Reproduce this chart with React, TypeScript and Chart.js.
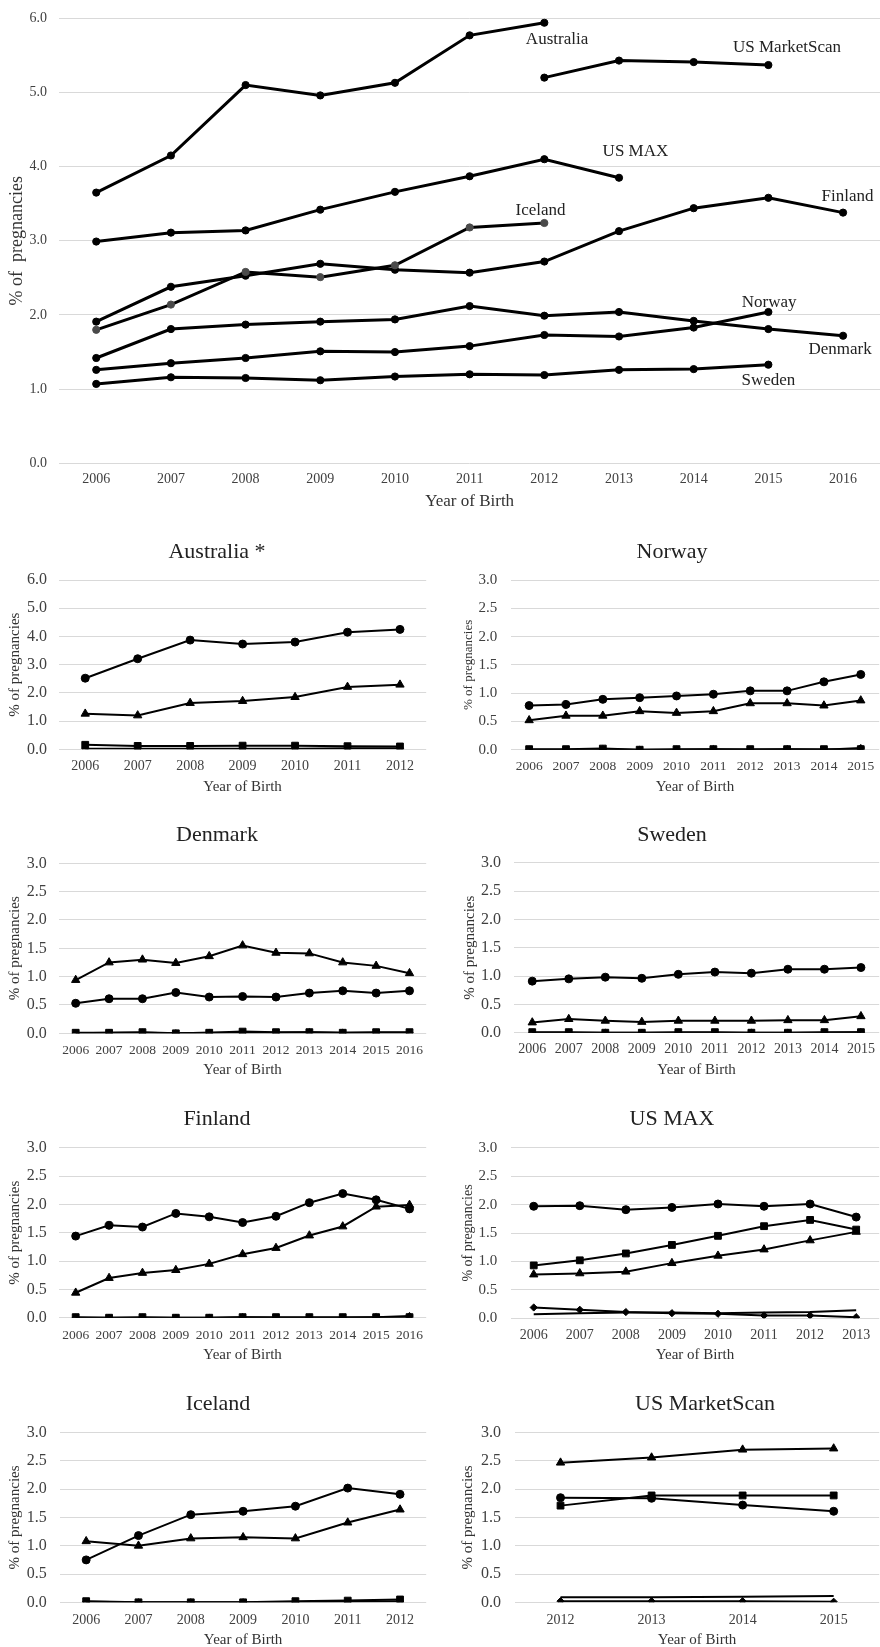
import React, { useEffect, useRef } from "react";
import { Chart, registerables } from "chart.js";

Chart.register(...registerables);

const FONT = "'Liberation Serif', 'Times New Roman', Times, serif";
const TICK_COLOR = "#404040";
const AXIS_TITLE_COLOR = "#333333";
const TITLE_COLOR = "#222222";
const GRID_COLOR = "#d9d9d9";

// ---------------- Overview chart data ----------------
const overviewYears = ["2006", "2007", "2008", "2009", "2010", "2011", "2012", "2013", "2014", "2015", "2016"];
const ovAustralia = [3.65, 4.15, 5.1, 4.96, 5.13, 5.77, 5.94, null, null, null, null];
const ovMarketScan = [null, null, null, null, null, null, 5.2, 5.43, 5.41, 5.37, null];
const ovUSMAX = [2.99, 3.11, 3.14, 3.42, 3.66, 3.87, 4.1, 3.85, null, null, null];
const ovIceland = [1.8, 2.14, 2.58, 2.51, 2.67, 3.18, 3.24, null, null, null, null];
const ovFinland = [1.91, 2.38, 2.53, 2.69, 2.61, 2.57, 2.72, 3.13, 3.44, 3.58, 3.38];
const ovDenmark = [1.42, 1.81, 1.87, 1.91, 1.94, 2.12, 1.99, 2.04, 1.92, 1.81, 1.72];
const ovNorway = [1.26, 1.35, 1.42, 1.51, 1.5, 1.58, 1.73, 1.71, 1.83, 2.04, null];
const ovSweden = [1.07, 1.16, 1.15, 1.12, 1.17, 1.2, 1.19, 1.26, 1.27, 1.33, null];

// label texts and anchor (category index, value) for the overview annotations
const ovLabelTexts = ["Australia", "US MarketScan", "US MAX", "Iceland", "Finland", "Norway", "Denmark", "Sweden"];
const ovLabelAnchors = [
  [6.17, 5.72],
  [9.25, 5.6],
  [7.22, 4.2],
  [5.95, 3.41],
  [10.06, 3.6],
  [9.01, 2.165],
  [9.96, 1.53],
  [9.0, 1.11],
];

// ---------------- Panel data ----------------
const yearsAU = ["2006", "2007", "2008", "2009", "2010", "2011", "2012"];
const auCircle = [2.52, 3.21, 3.87, 3.73, 3.8, 4.15, 4.25];
const auTriangle = [1.26, 1.2, 1.64, 1.71, 1.85, 2.21, 2.29];
const auSquare = [0.16, 0.12, 0.12, 0.13, 0.13, 0.11, 0.1];
const auDiamond = [0.02, 0.02, 0.02, 0.02, 0.02, 0.04, 0.04];

const yearsNO = ["2006", "2007", "2008", "2009", "2010", "2011", "2012", "2013", "2014", "2015"];
const noCircle = [0.78, 0.8, 0.89, 0.92, 0.95, 0.98, 1.04, 1.04, 1.2, 1.33];
const noTriangle = [0.52, 0.6, 0.6, 0.68, 0.65, 0.68, 0.82, 0.82, 0.78, 0.87];
const noSquare = [0.01, 0.01, 0.02, 0.0, 0.01, 0.01, 0.01, 0.01, 0.01, 0.01];
const noDiamond = [0.0, 0.0, 0.01, 0.0, 0.0, 0.01, 0.0, 0.01, 0.0, 0.03];

const yearsDK = ["2006", "2007", "2008", "2009", "2010", "2011", "2012", "2013", "2014", "2015", "2016"];
const dkTriangle = [0.94, 1.25, 1.3, 1.24, 1.36, 1.55, 1.42, 1.41, 1.25, 1.19, 1.06];
const dkCircle = [0.53, 0.61, 0.61, 0.72, 0.64, 0.65, 0.64, 0.71, 0.75, 0.71, 0.75];
const dkSquare = [0.01, 0.01, 0.02, 0.0, 0.01, 0.03, 0.02, 0.02, 0.01, 0.02, 0.02];
const dkDiamond = [0.0, 0.01, 0.01, 0.0, 0.01, 0.01, 0.01, 0.02, 0.01, 0.01, 0.01];

const yearsSE = ["2006", "2007", "2008", "2009", "2010", "2011", "2012", "2013", "2014", "2015"];
const seCircle = [0.91, 0.95, 0.98, 0.96, 1.03, 1.07, 1.05, 1.12, 1.12, 1.15];
const seTriangle = [0.18, 0.24, 0.21, 0.19, 0.21, 0.21, 0.21, 0.22, 0.22, 0.29];
const seSquare = [0.01, 0.01, 0.0, 0.0, 0.01, 0.01, 0.0, 0.0, 0.01, 0.01];
const seDiamond = [0.0, 0.0, 0.0, 0.0, 0.0, 0.0, 0.0, 0.0, 0.0, 0.01];

const yearsFI = ["2006", "2007", "2008", "2009", "2010", "2011", "2012", "2013", "2014", "2015", "2016"];
const fiCircle = [1.44, 1.63, 1.6, 1.84, 1.78, 1.68, 1.79, 2.03, 2.19, 2.08, 1.92];
const fiTriangle = [0.44, 0.7, 0.79, 0.84, 0.95, 1.12, 1.23, 1.45, 1.61, 1.96, 1.99];
const fiSquare = [0.01, 0.0, 0.01, 0.0, 0.0, 0.01, 0.01, 0.01, 0.01, 0.01, 0.01];
const fiDiamond = [0.0, 0.0, 0.0, 0.0, 0.0, 0.01, 0.0, 0.0, 0.0, 0.01, 0.03];

const yearsMAX = ["2006", "2007", "2008", "2009", "2010", "2011", "2012", "2013"];
const maxCircle = [1.97, 1.98, 1.91, 1.95, 2.01, 1.97, 2.01, 1.78];
const maxSquare = [0.93, 1.02, 1.14, 1.29, 1.45, 1.62, 1.73, 1.56];
const maxTriangle = [0.77, 0.79, 0.82, 0.97, 1.1, 1.21, 1.37, 1.52];
const maxDiamond = [0.19, 0.15, 0.11, 0.09, 0.08, 0.05, 0.05, 0.02];
const maxPlain = [0.07, 0.09, 0.1, 0.1, 0.09, 0.1, 0.11, 0.14];

const yearsIS = ["2006", "2007", "2008", "2009", "2010", "2011", "2012"];
const isCircle = [0.75, 1.18, 1.55, 1.61, 1.7, 2.02, 1.91];
const isTriangle = [1.08, 1.0, 1.13, 1.15, 1.13, 1.41, 1.64];
const isSquare = [0.02, 0.0, 0.0, 0.0, 0.02, 0.03, 0.05];
const isDiamond = [0.01, 0.0, 0.0, 0.0, 0.0, 0.01, 0.02];

const yearsMS = ["2012", "2013", "2014", "2015"];
const msTriangle = [2.47, 2.56, 2.7, 2.72];
const msSquare = [1.71, 1.89, 1.89, 1.89];
const msCircle = [1.85, 1.84, 1.72, 1.61];
const msPlain = [0.09, 0.09, 0.1, 0.11];
const msDiamond = [0.02, 0.02, 0.02, 0.01];

// ---------------- helpers ----------------
type Marker = "circle" | "triangle" | "square" | "diamond" | "none";
type Series = { data: (number | null)[]; marker: Marker; pointColor?: string };

const markerStyle: Record<Marker, { style: string; r: number }> = {
  circle: { style: "circle", r: 4 },
  triangle: { style: "triangle", r: 4.8 },
  square: { style: "rect", r: 4.8 },
  diamond: { style: "rectRot", r: 3.6 },
  none: { style: "circle", r: 0 },
};

type Spec = {
  key: string;
  labels: string[];
  series: Series[];
  lineWidth: number;
  markerScale: number;
  x0: number;
  canvasTop: number;
  canvasH: number;
  plotL: number;
  plotR: number;
  plotT: number;
  plotB: number;
  yMax: number;
  yStep: number;
  yTickRight: number;
  yTickSize: number;
  yTitle: string;
  yTitleX: number;
  yTitleSize: number;
  xTickY: number;
  xTickSize: number;
  xTitleY: number;
  xTitleSize: number;
  title?: string;
  titleX?: number;
  titleY?: number;
  titleSize?: number;
  annotations?: { text: string; at: number[]; size: number }[];
};

const textPlugin = {
  id: "panelText",
  afterDraw(chart: any, _args: any, opts: any) {
    const ctx = chart.ctx;
    ctx.save();
    ctx.textAlign = "center";
    ctx.textBaseline = "middle";
    for (const it of opts.items || []) {
      ctx.font = `${it.size}px ${FONT}`;
      ctx.fillStyle = it.color;
      let x = it.x;
      let y = it.y;
      if (it.data) {
        x = chart.scales.x.getPixelForValue(it.x);
        y = chart.scales.y.getPixelForValue(it.y);
      }
      ctx.fillText(it.text, x, y);
    }
    ctx.restore();
  },
};

function buildConfig(spec: Spec): any {
  const top = spec.canvasTop;
  const H = spec.canvasH;
  const yTitlePadTop = spec.yTitleX - spec.x0 - 0.6 * spec.yTitleSize;
  const xTickPad = spec.xTickY - spec.plotB - 0.6 * spec.xTickSize;
  const xTitlePadBottom = top + H - spec.xTitleY - 0.6 * spec.xTitleSize;
  const items: any[] = [];
  if (spec.title) {
    items.push({
      text: spec.title,
      x: (spec.titleX as number) - spec.x0,
      y: (spec.titleY as number) - top,
      size: spec.titleSize,
      color: TITLE_COLOR,
    });
  }
  for (const a of spec.annotations || []) {
    items.push({ text: a.text, x: a.at[0], y: a.at[1], size: a.size, color: TITLE_COLOR, data: true });
  }
  return {
    type: "line",
    data: {
      labels: spec.labels,
      datasets: spec.series.map((s, i) => {
        const m = markerStyle[s.marker];
        const pc = s.pointColor || "#000000";
        return {
          label: `s${i}`,
          data: s.data,
          borderColor: "#000000",
          borderWidth: spec.lineWidth,
          backgroundColor: pc,
          pointBackgroundColor: pc,
          pointBorderColor: pc,
          pointBorderWidth: 1,
          pointStyle: m.style,
          pointRadius: m.r * spec.markerScale,
          pointHoverRadius: m.r * spec.markerScale,
          tension: 0,
          fill: false,
          spanGaps: false,
        };
      }),
    },
    options: {
      responsive: false,
      animation: false,
      devicePixelRatio: 1,
      events: [],
      layout: { padding: { top: spec.plotT - top, left: 0, right: 0, bottom: 0 } },
      plugins: {
        legend: { display: false },
        title: { display: false },
        tooltip: { enabled: false },
        panelText: { items },
      },
      scales: {
        x: {
          type: "category",
          offset: true,
          grid: { display: false, drawTicks: false },
          border: { display: false },
          ticks: {
            autoSkip: false,
            maxRotation: 0,
            minRotation: 0,
            padding: xTickPad,
            color: TICK_COLOR,
            font: { family: FONT, size: spec.xTickSize },
          },
          title: {
            display: true,
            text: "Year of Birth",
            color: AXIS_TITLE_COLOR,
            font: { family: FONT, size: spec.xTitleSize },
            padding: { top: 0, bottom: xTitlePadBottom },
          },
          afterFit: (s: any) => {
            s.height = top + H - spec.plotB;
            s.paddingLeft = 0;
            s.paddingRight = 0;
          },
        },
        y: {
          type: "linear",
          min: 0,
          max: spec.yMax,
          grid: { color: GRID_COLOR, lineWidth: 1, drawTicks: false },
          border: { display: false },
          ticks: {
            stepSize: spec.yStep,
            padding: spec.plotL - spec.yTickRight,
            color: TICK_COLOR,
            font: { family: FONT, size: spec.yTickSize },
            callback: (v: any) => Number(v).toFixed(1),
          },
          title: {
            display: true,
            text: spec.yTitle,
            color: AXIS_TITLE_COLOR,
            font: { family: FONT, size: spec.yTitleSize },
            padding: { top: yTitlePadTop, bottom: 0 },
          },
          afterFit: (s: any) => {
            s.width = spec.plotL - spec.x0;
            s.paddingTop = 0;
            s.paddingBottom = 0;
          },
        },
      },
    },
    plugins: [textPlugin],
  };
}

function ChartBox({ spec }: { spec: Spec }) {
  const ref = useRef<HTMLCanvasElement>(null);
  useEffect(() => {
    const chart = new Chart(ref.current as HTMLCanvasElement, buildConfig(spec));
    return () => chart.destroy();
  }, [spec]);
  const w = Math.round(spec.plotR - spec.x0);
  const h = Math.round(spec.canvasH);
  return (
    <canvas
      ref={ref}
      width={w}
      height={h}
      style={{ position: "absolute", left: spec.x0, top: spec.canvasTop, width: w, height: h, display: "block" }}
    />
  );
}

function panel(
  base: {
    key: string;
    title: string;
    titleX: number;
    titleY: number;
    labels: string[];
    series: Series[];
    x0: number;
    plotL: number;
    plotR: number;
    plotT: number;
    plotB: number;
    yMax: number;
    yStep: number;
    yTickRight: number;
    yTickSize: number;
    yTitleX: number;
    yTitleSize: number;
    xTickY: number;
    xTickSize: number;
    xTitleY: number;
  }
): Spec {
  const canvasTop = Math.round(base.plotT - 50);
  const canvasH = Math.round(base.plotB + 50 - canvasTop);
  return {
    ...base,
    lineWidth: 2,
    markerScale: 1,
    canvasTop,
    canvasH,
    yTitle: "% of pregnancies",
    xTitleSize: 15,
    titleSize: 22,
  };
}

const overviewSpec: Spec = {
  key: "overview",
  labels: overviewYears,
  series: [
    { data: ovAustralia, marker: "circle" },
    { data: ovMarketScan, marker: "circle" },
    { data: ovUSMAX, marker: "circle" },
    { data: ovIceland, marker: "circle", pointColor: "#4a4a4a" },
    { data: ovFinland, marker: "circle" },
    { data: ovDenmark, marker: "circle" },
    { data: ovNorway, marker: "circle" },
    { data: ovSweden, marker: "circle" },
  ],
  lineWidth: 3,
  markerScale: 0.9,
  x0: 0,
  canvasTop: 0,
  canvasH: 520,
  plotL: 58.9,
  plotR: 885,
  plotT: 18.3,
  plotB: 463.3,
  yMax: 6,
  yStep: 1,
  yTickRight: 47,
  yTickSize: 14,
  yTitle: "% of  pregnancies",
  yTitleX: 17,
  yTitleSize: 18,
  xTickY: 479.3,
  xTickSize: 14,
  xTitleY: 501.7,
  xTitleSize: 17,
  annotations: ovLabelTexts.map((t, i) => ({ text: t, at: ovLabelAnchors[i], size: 17 })),
};

const panels: Spec[] = [
  overviewSpec,
  panel({
    key: "au", title: "Australia *", titleX: 217, titleY: 552, labels: yearsAU,
    series: [
      { data: auCircle, marker: "circle" },
      { data: auTriangle, marker: "triangle" },
      { data: auSquare, marker: "square" },
      { data: auDiamond, marker: "diamond" },
    ],
    x0: 0, plotL: 59, plotR: 432, plotT: 580, plotB: 749.3, yMax: 6, yStep: 1,
    yTickRight: 47, yTickSize: 16, yTitleX: 15, yTitleSize: 15,
    xTickY: 766.7, xTickSize: 14, xTitleY: 786.7,
  }),
  panel({
    key: "no", title: "Norway", titleX: 672, titleY: 552, labels: yearsNO,
    series: [
      { data: noCircle, marker: "circle" },
      { data: noTriangle, marker: "triangle" },
      { data: noSquare, marker: "square" },
      { data: noDiamond, marker: "diamond" },
    ],
    x0: 440, plotL: 510.7, plotR: 885, plotT: 580, plotB: 749.7, yMax: 3, yStep: 0.5,
    yTickRight: 497.3, yTickSize: 15, yTitleX: 468.3, yTitleSize: 13,
    xTickY: 766.7, xTickSize: 13.5, xTitleY: 786.7,
  }),
  panel({
    key: "dk", title: "Denmark", titleX: 217, titleY: 835, labels: yearsDK,
    series: [
      { data: dkTriangle, marker: "triangle" },
      { data: dkCircle, marker: "circle" },
      { data: dkSquare, marker: "square" },
      { data: dkDiamond, marker: "diamond" },
    ],
    x0: 0, plotL: 59, plotR: 432, plotT: 863.3, plotB: 1033.3, yMax: 3, yStep: 0.5,
    yTickRight: 46.7, yTickSize: 16, yTitleX: 15, yTitleSize: 15,
    xTickY: 1050, xTickSize: 13.5, xTitleY: 1070,
  }),
  panel({
    key: "se", title: "Sweden", titleX: 672, titleY: 835, labels: yearsSE,
    series: [
      { data: seCircle, marker: "circle" },
      { data: seTriangle, marker: "triangle" },
      { data: seSquare, marker: "square" },
      { data: seDiamond, marker: "diamond" },
    ],
    x0: 440, plotL: 514, plotR: 885, plotT: 862.7, plotB: 1032.7, yMax: 3, yStep: 0.5,
    yTickRight: 501, yTickSize: 16, yTitleX: 470, yTitleSize: 15,
    xTickY: 1049.3, xTickSize: 14, xTitleY: 1070,
  }),
  panel({
    key: "fi", title: "Finland", titleX: 217, titleY: 1119.3, labels: yearsFI,
    series: [
      { data: fiCircle, marker: "circle" },
      { data: fiTriangle, marker: "triangle" },
      { data: fiSquare, marker: "square" },
      { data: fiDiamond, marker: "diamond" },
    ],
    x0: 0, plotL: 59, plotR: 432, plotT: 1147.7, plotB: 1317.7, yMax: 3, yStep: 0.5,
    yTickRight: 46.7, yTickSize: 16, yTitleX: 15, yTitleSize: 15,
    xTickY: 1335, xTickSize: 13.5, xTitleY: 1355,
  }),
  panel({
    key: "max", title: "US MAX", titleX: 672, titleY: 1119.3, labels: yearsMAX,
    series: [
      { data: maxCircle, marker: "circle" },
      { data: maxSquare, marker: "square" },
      { data: maxTriangle, marker: "triangle" },
      { data: maxDiamond, marker: "diamond" },
      { data: maxPlain, marker: "none" },
    ],
    x0: 440, plotL: 510.7, plotR: 885, plotT: 1147.7, plotB: 1318.3, yMax: 3, yStep: 0.5,
    yTickRight: 497.3, yTickSize: 15, yTitleX: 468.3, yTitleSize: 14,
    xTickY: 1335, xTickSize: 14, xTitleY: 1355,
  }),
  panel({
    key: "is", title: "Iceland", titleX: 218, titleY: 1404, labels: yearsIS,
    series: [
      { data: isCircle, marker: "circle" },
      { data: isTriangle, marker: "triangle" },
      { data: isSquare, marker: "square" },
      { data: isDiamond, marker: "diamond" },
    ],
    x0: 0, plotL: 60, plotR: 432, plotT: 1432.7, plotB: 1602.3, yMax: 3, yStep: 0.5,
    yTickRight: 46.7, yTickSize: 16, yTitleX: 15, yTitleSize: 15,
    xTickY: 1620, xTickSize: 14, xTitleY: 1640,
  }),
  panel({
    key: "ms", title: "US MarketScan", titleX: 705, titleY: 1404, labels: yearsMS,
    series: [
      { data: msTriangle, marker: "triangle" },
      { data: msSquare, marker: "square" },
      { data: msCircle, marker: "circle" },
      { data: msPlain, marker: "none" },
      { data: msDiamond, marker: "diamond" },
    ],
    x0: 440, plotL: 515, plotR: 885, plotT: 1432.7, plotB: 1602.3, yMax: 3, yStep: 0.5,
    yTickRight: 501, yTickSize: 16, yTitleX: 468.3, yTitleSize: 15,
    xTickY: 1620, xTickSize: 14, xTitleY: 1640,
  }),
];

export default function App() {
  return (
    <div
      style={{
        position: "absolute",
        left: 0,
        top: 0,
        width: 880,
        height: 1647,
        overflow: "hidden",
        background: "#ffffff",
      }}
    >
      {panels.map((p) => (
        <ChartBox key={p.key} spec={p} />
      ))}
    </div>
  );
}
